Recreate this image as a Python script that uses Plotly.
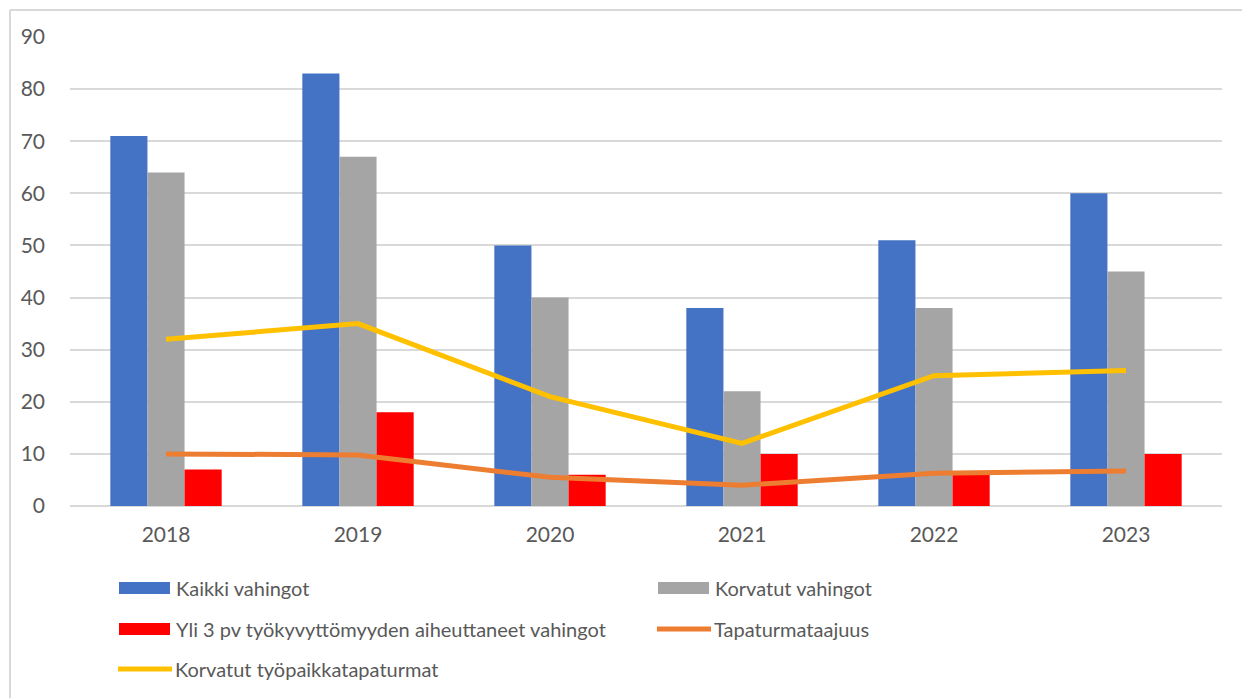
import plotly.graph_objects as go

years = ["2018", "2019", "2020", "2021", "2022", "2023"]

kaikki = [71, 83, 50, 38, 51, 60]
korvatut = [64, 67, 40, 22, 38, 45]
yli3pv = [7, 18, 6, 10, 6, 10]
taajuus = [10.0, 9.8, 5.5, 4.0, 6.3, 6.7]
tyopaikka = [32, 35, 21, 12, 25, 26]

names = [
    "Kaikki vahingot",
    "Korvatut vahingot",
    "Yli 3 pv työkyvyttömyyden aiheuttaneet vahingot",
    "Tapaturmataajuus",
    "Korvatut työpaikkatapaturmat",
]
colors = ["#4472C4", "#A5A5A5", "#FF0000", "#ED7D31", "#FFC000"]

# the page body adds an 8px margin, so the figure is shrunk and shifted by that
OFF = 8
W, H = 1250 - OFF, 698 - OFF
ML, MR, MT, MB = 62, 28, 29, 192
PW, PH = W - ML - MR, H - MT - MB
FONT = "Lato"
TEXT = "#595959"
GRID = "#D9D9D9"


# page pixel -> paper coordinates
def px(x):
    return (x - OFF - ML) / PW


def py(y):
    return (H - MB - (y - OFF)) / PH


fig = go.Figure()
for vals, name, col in zip([kaikki, korvatut, yli3pv], names[:3], colors[:3]):
    fig.add_trace(go.Bar(x=years, y=vals, name=name, marker=dict(color=col, line=dict(width=0))))
for vals, name, col in zip([taajuus, tyopaikka], names[3:], colors[3:]):
    fig.add_trace(go.Scatter(x=years, y=vals, name=name, mode="lines",
                             line=dict(color=col, width=5)))

# hand-made legend (Excel style wide swatches)
legend_pos = [(119, 588), (658, 588), (119, 629), (657, 629), (118, 669)]
shapes = []
annotations = []
for i, ((x0, yc), name, col) in enumerate(zip(legend_pos, names, colors)):
    if i < 3:
        shapes.append(dict(type="rect", xref="paper", yref="paper",
                           x0=px(x0), x1=px(x0 + 51), y0=py(yc - 6), y1=py(yc + 6),
                           fillcolor=col, line=dict(width=0)))
    else:
        shapes.append(dict(type="line", xref="paper", yref="paper",
                           x0=px(x0), x1=px(x0 + 54), y0=py(yc), y1=py(yc),
                           line=dict(color=col, width=5)))
    annotations.append(dict(xref="paper", yref="paper", x=px(x0 + 55), y=py(yc),
                            xanchor="left", yanchor="middle", showarrow=False,
                            text=name, font=dict(family=FONT, size=20, color=TEXT)))

# chart border (top and left edges visible)
shapes.append(dict(type="line", xref="paper", yref="paper", x0=px(10), x1=px(1250), y0=py(10), y1=py(10),
                   line=dict(color=GRID, width=2)))
shapes.append(dict(type="line", xref="paper", yref="paper", x0=px(10), x1=px(10), y0=py(10), y1=py(698),
                   line=dict(color=GRID, width=2)))

fig.update_layout(
    width=W, height=H,
    margin=dict(l=ML, r=MR, t=MT, b=MB),
    paper_bgcolor="white", plot_bgcolor="white",
    barmode="group", bargap=0.42, bargroupgap=0,
    showlegend=False,
    font=dict(family=FONT, size=21, color=TEXT),
    shapes=shapes, annotations=annotations,
    xaxis=dict(showgrid=False, showline=False, ticks="", ticklabelstandoff=14,
               tickfont=dict(family=FONT, size=21, color=TEXT)),
    yaxis=dict(range=[0, 90], dtick=10, showgrid=True, gridcolor=GRID, gridwidth=1.5,
               zeroline=True, zerolinecolor=GRID, zerolinewidth=1.5, showline=False,
               ticks="", ticklabelstandoff=24,
               tickfont=dict(family=FONT, size=21, color=TEXT)),
)

fig.write_html("out.html")
